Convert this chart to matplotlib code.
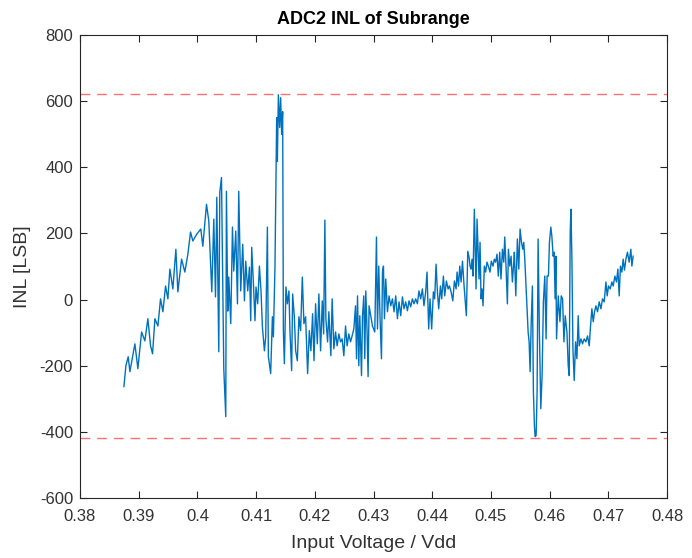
import matplotlib
matplotlib.use("Agg")
import matplotlib.pyplot as plt

# INL trace (input voltage / Vdd, INL in LSB)
voltage = [
    0.38748, 0.38782, 0.38821, 0.38850, 0.38935, 0.38986, 0.39049, 0.39105,
    0.39156, 0.39202, 0.39236, 0.39276, 0.39327, 0.39372, 0.39412, 0.39457,
    0.39497, 0.39531, 0.39582, 0.39633, 0.39667, 0.39730, 0.39786, 0.39837,
    0.39883, 0.39922, 0.39990, 0.40058, 0.40092, 0.40155, 0.40194, 0.40245,
    0.40279, 0.40308, 0.40330, 0.40364, 0.40381, 0.40410, 0.40449, 0.40483,
    # after the first down-spike
    0.40494, 0.40517, 0.40534, 0.40568, 0.40597, 0.40619, 0.40653, 0.40682,
    0.40704, 0.40721, 0.40738, 0.40772, 0.40801, 0.40823, 0.40857, 0.40886,
    0.40908, 0.40925, 0.40954, 0.40981, 0.40998, 0.41027, 0.41056, 0.41083,
    0.41107, 0.41141, 0.41163, 0.41192, 0.41209, 0.41248, 0.41277, 0.41294,
    0.41321, 0.41350, 0.41362, 0.41379, 0.41401, 0.41418, 0.41435, 0.41452,
    0.41464, 0.41481, 0.41508, 0.41532, 0.41559, 0.41576, 0.41605, 0.41622,
    0.41651, 0.41673, 0.41702, 0.41729, 0.41758, 0.41787, 0.41814, 0.41843,
    0.41877, 0.41906, 0.41933, 0.41962, 0.41986, 0.42013, 0.42042, 0.42069,
    0.42098, 0.42127, 0.42150,
    # flat-ish middle
    0.42171, 0.42188, 0.42217, 0.42239, 0.42273, 0.42295, 0.42324, 0.42353,
    0.42380, 0.42409, 0.42438, 0.42465, 0.42494, 0.42523, 0.42550, 0.42579,
    0.42608, 0.42635, 0.42664, 0.42693, 0.42710, 0.42727, 0.42749, 0.42766,
    0.42795, 0.42812, 0.42834, 0.42851, 0.42868, 0.42890, 0.42907, 0.42924,
    0.42953, 0.42982, 0.43021, 0.43050, 0.43067, 0.43089, 0.43111, 0.43135,
    0.43152, 0.43169, 0.43186, 0.43208, 0.43237, 0.43264, 0.43293, 0.43322,
    0.43349, 0.43378, 0.43407, 0.43434, 0.43463, 0.43492, 0.43519, 0.43548,
    0.43577, 0.43604, 0.43633, 0.43662, 0.43689, 0.43718, 0.43747, 0.43774,
    0.43803, 0.43832, 0.43859, 0.43888,
    # rising plateau
    0.43911, 0.43939, 0.43962, 0.43990, 0.44019, 0.44041, 0.44065, 0.44088,
    0.44110, 0.44139, 0.44161, 0.44190, 0.44212, 0.44241, 0.44270, 0.44292,
    0.44321, 0.44350, 0.44377, 0.44406, 0.44423, 0.44447, 0.44469, 0.44491,
    0.44515, 0.44542, 0.44559, 0.44581, 0.44605, 0.44627, 0.44644, 0.44661,
    0.44678, 0.44695, 0.44717, 0.44746, 0.44763, 0.44780, 0.44797, 0.44814,
    0.44831, 0.44848, 0.44865, 0.44887, 0.44909, 0.44933, 0.44955, 0.44984,
    0.45006, 0.45035, 0.45057, 0.45079, 0.45103, 0.45125, 0.45149, 0.45171,
    0.45195, 0.45218, 0.45235, 0.45258, 0.45280, 0.45297, 0.45320, 0.45343,
    0.45365, 0.45389, 0.45399, 0.45423, 0.45450, 0.45474, 0.45496, 0.45520,
    0.45542, 0.45559, 0.45576, 0.45598, 0.45615,
    # deep dip near 0.457
    0.45633, 0.45650, 0.45667, 0.45684, 0.45706, 0.45723, 0.45740, 0.45752,
    0.45769, 0.45786, 0.45803, 0.45825, 0.45849, 0.45871, 0.45893, 0.45917,
    0.45939, 0.45956, 0.45979, 0.45996, 0.46020, 0.46037, 0.46059, 0.46076,
    0.46093,
    # recovery and final ramp
    0.46106, 0.46117, 0.46146, 0.46175, 0.46197, 0.46220, 0.46243, 0.46265,
    0.46294, 0.46316, 0.46333, 0.46350, 0.46362, 0.46379, 0.46396, 0.46418,
    0.46441, 0.46464, 0.46486, 0.46503, 0.46532, 0.46560, 0.46588, 0.46617,
    0.46645, 0.46674, 0.46696, 0.46719, 0.46742, 0.46764, 0.46788, 0.46815,
    0.46844, 0.46873, 0.46900, 0.46929, 0.46958, 0.46980, 0.47002, 0.47031,
    0.47060, 0.47082, 0.47111, 0.47138, 0.47162, 0.47184, 0.47206, 0.47230,
    0.47252, 0.47274, 0.47298, 0.47325, 0.47354, 0.47383, 0.47400, 0.47422,
]
inl = [
    -263, -200, -173, -218, -134, -209, -98, -125,
    -58, -140, -164, -58, -80, 2, -37, 41,
    2, 92, 32, 152, 23, 122, 83, 137,
    204, 177, 198, 213, 161, 288, 237, 23,
    243, 8, 309, -158, 324, 369, -209, -354,
    327, -35, 68, -73, 219, 86, 207, -13,
    327, 177, 26, 167, -4, 116, 26, 98,
    -64, 158, 47, -64, 38, -13, 101, 26,
    -82, -155, -113, 219, -173, -224, -52, -113,
    98, 550, 417, 619, 520, 610, 499, 568,
    -94, -194, 38, -13, 26, -94, -215, 17,
    -52, -155, -185, -52, -94, 68, -73, -52,
    -224, -94, -155, -43, -185, -13, -134, 17,
    -155, -4, -104,
    240, -58, -128, -37, -170, 2, -149, -98,
    -140, -104, -128, -119, -170, -80, -140, -104,
    -128, -110, -89, -19, -179, 11, -200, -49,
    -230, -49, 11, -179, 26, -98, -233, -19,
    -49, -80, -98, 189, -89, 101, -58, -179,
    83, 101, -58, 62, -37, 11, -19, 2,
    -37, 11, -58, -7, -49, 8, -28, -7,
    -34, -4, -22, 2, -13, 2, -13, 26,
    2, 32, -19, 23,
    83, -89, 2, -89, 23, 2, 107, 23,
    -28, 41, 2, 71, 11, 56, 32, 41,
    23, -4, 56, 32, 83, 41, 101, 53,
    116, 41, 2, -49, 146, 128, 101, 92,
    122, 71, 273, 32, 243, 152, 62, 173,
    2, 32, -19, 101, 83, 113, 101, 83,
    116, 101, 122, 113, 137, 71, 143, 62,
    152, 113, 189, 92, -13, 152, 101, 131,
    53, 113, 143, 11, 183, 92, 213, 173,
    152, 173, 122, 41, -28,
    -98, -128, -218, -80, 41, -279, -381, -414,
    -411, -279, 183, -98, -330, -230, -7, 71,
    -119, 71, 71, 173, 219, 192, 131, 143,
    2,
    131, -119, 11, -67, 11, 2, -128, -49,
    -98, -200, -230, 204, 273, 122, -149, -245,
    -128, -179, -49, -140, -119, -134, -119, -128,
    -110, -140, -80, -28, -67, -37, -19, -37,
    -7, -28, 2, -7, 53, 11, 41, 32,
    53, 41, 71, 53, 92, 11, 101, 83,
    122, 89, 122, 143, 113, 152, 101, 131,
]

limit_hi = 620
limit_lo = -420

x_ticks = [0.38, 0.39, 0.40, 0.41, 0.42, 0.43, 0.44, 0.45, 0.46, 0.47, 0.48]
x_ticklabels = ["0.38", "0.39", "0.4", "0.41", "0.42", "0.43", "0.44",
                "0.45", "0.46", "0.47", "0.48"]
y_ticks = [-600, -400, -200, 0, 200, 400, 600, 800]

plt.rcParams['font.family'] = ['Liberation Sans', 'DejaVu Sans']
plt.rcParams['axes.unicode_minus'] = False

fig = plt.figure(figsize=(6.92, 5.58), dpi=100)
ax = fig.add_axes([0.1156, 0.1075, 0.8484, 0.83])

ax.plot(voltage, inl, color='#0072BD', linewidth=1.0)
ax.axhline(limit_hi, color='#ff4d4d', linestyle=(0, (7, 5)), linewidth=1.0, alpha=0.8)
ax.axhline(limit_lo, color='#ff4d4d', linestyle=(0, (7, 5)), linewidth=1.0, alpha=0.8)

ax.set_xlim(0.38, 0.48)
ax.set_ylim(-600, 800)
ax.set_xticks(x_ticks)
ax.set_xticklabels(x_ticklabels)
ax.set_yticks(y_ticks)

grey = '#262626'
for s in ax.spines.values():
    s.set_color(grey)
    s.set_linewidth(0.8)
ax.tick_params(direction='in', top=True, right=True, length=5, width=0.8,
               colors=grey, labelsize=12, labelcolor='#333333')
ax.tick_params(axis='x', pad=8)
ax.tick_params(axis='y', pad=5)

ax.set_title('ADC2 INL of Subrange', fontsize=13, fontweight='bold', color='black', pad=8)
ax.set_xlabel('Input Voltage / Vdd', fontsize=14, color='#333333', labelpad=8)
ax.set_ylabel('INL [LSB]', fontsize=14, color='#333333', labelpad=6)

fig.savefig('out.png', dpi=100)
